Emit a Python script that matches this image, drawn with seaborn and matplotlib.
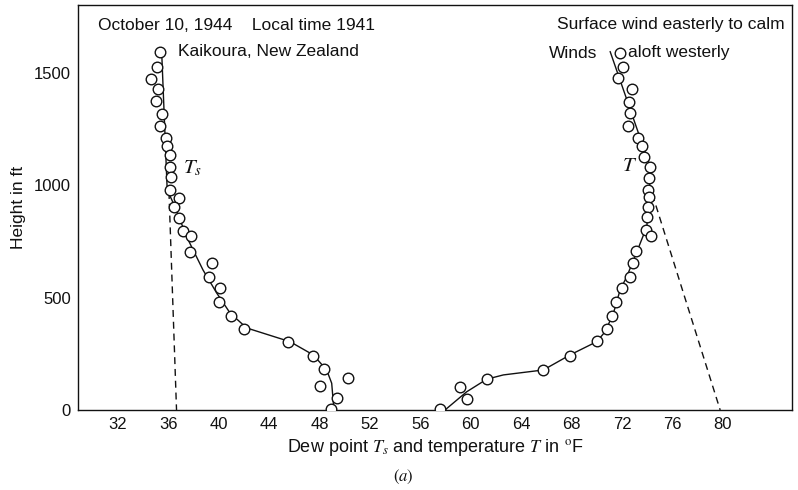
import numpy as np
import pandas as pd
import matplotlib
matplotlib.use("Agg")
import matplotlib.pyplot as plt
import seaborn as sns

# dew point T_s observations (deg F, height ft)
ts_temp = [35.33, 35.07, 34.62, 35.15, 35.02, 35.47, 35.33, 35.81, 35.87, 36.13,
           36.13, 36.18, 36.13, 36.87, 36.44, 36.87, 37.18, 37.79, 37.71, 39.48,
           39.22, 40.10, 40.04, 40.97, 42.02, 45.52, 47.50, 48.37, 50.23, 48.03,
           49.36, 48.88]
ts_height = [1593, 1525, 1472, 1427, 1375, 1317, 1264, 1210, 1175, 1135,
             1083, 1038, 979, 942, 905, 853, 797, 776, 702, 653,
             593, 542, 482, 420, 362, 304, 242, 181, 141, 108,
             52, 3]

# temperature T observations
t_temp = [71.84, 72.10, 71.71, 72.82, 72.56, 72.63, 72.45, 73.29, 73.61, 73.77,
          74.22, 74.17, 74.09, 74.17, 74.09, 74.01, 73.90, 74.28, 73.08, 72.85,
          72.66, 71.98, 71.50, 71.18, 70.79, 69.99, 67.87, 65.71, 61.26, 59.14,
          59.67, 57.56]
t_height = [1590, 1528, 1476, 1427, 1372, 1320, 1264, 1209, 1175, 1127,
            1083, 1031, 979, 949, 905, 858, 801, 774, 707, 656,
            593, 541, 482, 418, 359, 308, 240, 178, 138, 104,
            49, 3]

# hand drawn curves through the soundings
ts_curve_temp = [35.47, 35.91, 36.52, 37.45, 38.75, 39.83, 40.89, 42.21, 45.65, 47.50, 48.56, 48.96, 49.14]
ts_curve_height = [1595, 979, 905, 771, 623, 521, 432, 365, 304, 245, 178, 119, 0]
t_curve_temp = [71.05, 74.22, 74.17, 73.96, 73.29, 72.37, 71.84, 71.31, 70.65, 69.99, 67.87, 65.75, 62.58, 61.26, 59.67, 57.95]
t_curve_height = [1595, 1083, 966, 816, 721, 593, 534, 430, 348, 304, 245, 178, 156, 137, 81, 0]

# dashed extrapolations to the ground
ts_dash_temp = [36.05, 36.65]
ts_dash_height = [970, 0]
t_dash_temp = [74.40, 79.78]
t_dash_height = [960, 0]

x_major = [32, 36, 40, 44, 48, 52, 56, 60, 64, 68, 72, 76, 80]
x_minor = [34, 38, 42, 46, 50, 54, 58, 62, 66, 70, 74, 78]
y_major = [0, 500, 1000, 1500]
y_minor = [100, 200, 300, 400, 600, 700, 800, 900, 1100, 1200, 1300, 1400, 1600, 1700]

sns.set_theme(style="white")
plt.rcParams['font.family'] = ['Liberation Sans', 'DejaVu Sans']
plt.rcParams['mathtext.fontset'] = 'stix'

fig = plt.figure(figsize=(7.98, 4.90), dpi=100)
ax = fig.add_axes([0.0977, 0.1633, 0.8948, 0.8265])

black = "#111111"
sns.lineplot(x=ts_curve_temp, y=ts_curve_height, sort=False, estimator=None,
             color=black, lw=1.0, ax=ax)
sns.lineplot(x=t_curve_temp, y=t_curve_height, sort=False, estimator=None,
             color=black, lw=1.0, ax=ax)
sns.lineplot(x=ts_dash_temp, y=ts_dash_height, sort=False, estimator=None,
             color=black, lw=1.0, linestyle=(0, (5, 3.5)), ax=ax)
sns.lineplot(x=t_dash_temp, y=t_dash_height, sort=False, estimator=None,
             color=black, lw=1.0, linestyle=(0, (5, 3.5)), ax=ax)

sns.scatterplot(x=ts_temp, y=ts_height, marker='o', s=58, facecolor='white',
                edgecolor=black, linewidth=1.0, zorder=3, ax=ax)
sns.scatterplot(x=t_temp, y=t_height, marker='o', s=58, facecolor='white',
                edgecolor=black, linewidth=1.0, zorder=3, ax=ax)

ax.set_xlim(28.83, 85.48)
ax.set_ylim(0, 1802)
ax.set_xticks(x_major)
ax.set_xticks(x_minor, minor=True)
ax.set_yticks(y_major)
ax.set_yticks(y_minor, minor=True)
ax.tick_params(axis='both', which='both', direction='in', color=black,
               labelsize=12, labelcolor=black)
ax.tick_params(axis='x', which='both', length=5, width=0.9, pad=5)
ax.tick_params(axis='y', which='both', length=3, width=0.9, pad=5)
for sp in ax.spines.values():
    sp.set_color(black)
    sp.set_linewidth(1.0)

ax.set_xlabel(r"Dew point $T_s$ and temperature $T$ in $^{\rm o}$F",
              fontsize=13, color=black, labelpad=4)
ax.set_ylabel("Height in ft", fontsize=12.5, color=black, labelpad=6)

ax.text(37.15, 1077, r"$T_s$", fontsize=15, color=black, va='center', ha='left')
ax.text(72.56, 1090, r"$T$", fontsize=15, color=black, va='center', ha='center')

fig.text(98 / 798, 1 - 25 / 490, "October 10, 1944    Local time 1941",
         fontsize=12.5, color=black, ha='left', va='center')
fig.text(178 / 798, 1 - 51 / 490, "Kaikoura, New Zealand",
         fontsize=12.5, color=black, ha='left', va='center')
fig.text(785 / 798, 1 - 25 / 490, "Surface wind easterly to calm",
         fontsize=12.5, color=black, ha='right', va='center')
fig.text(597 / 798, 1 - 53 / 490, "Winds", fontsize=12.5, color=black,
         ha='right', va='center')
fig.text(628 / 798, 1 - 53 / 490, "aloft westerly", fontsize=12.5, color=black,
         ha='left', va='center')
fig.text(403 / 798, 1 - 477 / 490, r"$(a)$", fontsize=12, color=black,
         ha='center', va='center')

plt.savefig("out.png", dpi=100)
